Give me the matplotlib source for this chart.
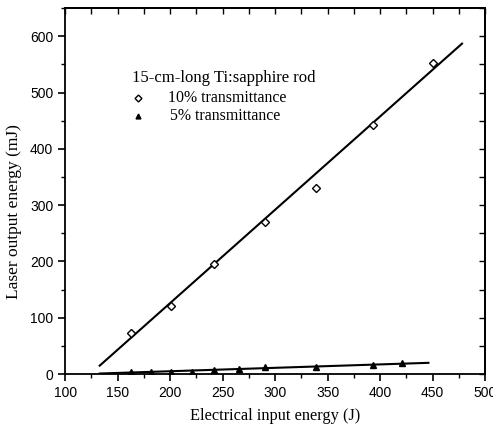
import numpy as np
import matplotlib
matplotlib.use("Agg")
import matplotlib.pyplot as plt
from matplotlib.ticker import MultipleLocator

# 10% transmittance (open diamonds)
x10 = [163, 201, 242, 290, 339, 393, 450]
y10 = [73, 121, 195, 270, 331, 443, 553]
fit10_x = [133, 478]
fit10_y = [15, 587]

# 5% transmittance (filled triangles)
x5 = [163, 182, 201, 221, 242, 266, 290, 339, 393, 421]
y5 = [3, 4, 4, 4, 7, 9, 13, 13, 17, 19]
fit5_x = [133, 446]
fit5_y = [1, 20]

xticks = [100, 150, 200, 250, 300, 350, 400, 450, 500]
yticks = [0, 100, 200, 300, 400, 500, 600]

serif = "Liberation Serif"
sans = "Liberation Sans"

fig = plt.figure(figsize=(4.93, 4.29), dpi=100)
ax = fig.add_axes([0.132, 0.128, 0.852, 0.853])

ax.plot(fit10_x, fit10_y, color="black", lw=1.5)
ax.plot(fit5_x, fit5_y, color="black", lw=1.5)
ax.plot(x10, y10, linestyle="none", marker="D", markersize=4, markerfacecolor="white",
        markeredgecolor="black", markeredgewidth=1.0)
ax.plot(x5, y5, linestyle="none", marker="^", markersize=4, color="black")

ax.set_xlim(100, 500)
ax.set_ylim(0, 650)
ax.set_xticks(xticks)
ax.set_yticks(yticks)
ax.xaxis.set_minor_locator(MultipleLocator(25))
ax.yaxis.set_minor_locator(MultipleLocator(50))
ax.tick_params(which="major", direction="out", length=5, width=1.2, labelsize=10)
ax.tick_params(which="minor", direction="out", length=3, width=1.0)
for lab in ax.get_xticklabels() + ax.get_yticklabels():
    lab.set_fontfamily(sans)

top = ax.secondary_xaxis("top")
top.set_xticks(np.arange(100, 501, 25))
top.tick_params(direction="in", length=4, width=1.0, labeltop=False)
right = ax.secondary_yaxis("right")
right.set_yticks(np.arange(0, 651, 50))
right.tick_params(direction="in", length=4, width=1.0, labelright=False)

for sp in list(ax.spines.values()) + [top.spines["top"], right.spines["right"]]:
    sp.set_linewidth(1.3)

ax.set_xlabel("Electrical input energy (J)", fontfamily=serif, fontsize=11.8, labelpad=6)
ax.set_ylabel("Laser output energy (mJ)", fontfamily=serif, fontsize=12.5)
ax.yaxis.set_label_coords(-0.102, 0.443)

# legend-like annotation
ax.text(164, 526, "15-cm-long Ti:sapphire rod", fontfamily=serif, fontsize=12, va="center")
ax.plot([169.5], [490], linestyle="none", marker="D", markersize=3.5, markerfacecolor="white",
        markeredgecolor="black", markeredgewidth=1.0)
ax.text(198, 490, "10% transmittance", fontfamily=serif, fontsize=11.4, va="center")
ax.plot([169.5], [458], linestyle="none", marker="^", markersize=3.5, color="black")
ax.text(200, 458, "5% transmittance", fontfamily=serif, fontsize=11.4, va="center")

fig.savefig("out.png", dpi=100)
